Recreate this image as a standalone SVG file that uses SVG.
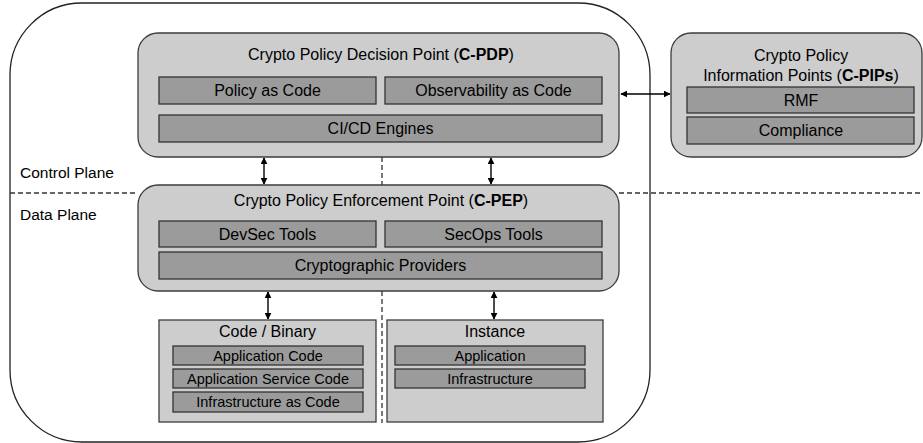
<svg xmlns="http://www.w3.org/2000/svg" width="923" height="443" viewBox="0 0 923 443">
<defs>
<marker id="ah" viewBox="0 0 10 10" refX="9" refY="5" markerWidth="7" markerHeight="7" markerUnits="userSpaceOnUse" orient="auto-start-reverse">
<path d="M0,0 L10,5 L0,10 z" fill="#000"/>
</marker>
</defs>
<style>
text{font-family:"Liberation Sans",Arial,sans-serif;fill:#000;text-anchor:middle}
.t{font-size:16px}
.s{font-size:14.5px}
.lbl{font-size:15.5px;text-anchor:start}
.b{font-weight:bold}
.outer{fill:#fff;stroke:#222;stroke-width:1.3}
.grp{fill:#cdcdcd;stroke:#3c3c3c;stroke-width:1.3}
.inn{fill:#9b9b9b;stroke:#333;stroke-width:1.3}
.dash{stroke:#333;stroke-width:1.3;stroke-dasharray:5 3;fill:none}
.arr{stroke:#000;stroke-width:1.4;fill:none;marker-start:url(#ah);marker-end:url(#ah)}
</style>
<rect class="outer" x="10" y="3" width="640" height="439" rx="72"/>
<g id="planes">
<text class="lbl" x="20" y="178">Control Plane</text>
<text class="lbl" x="20" y="220">Data Plane</text>
</g>
<g id="connectors">
<path class="dash" d="M10,193 H138 M619,193 H923"/>
<path class="dash" d="M382,157 V185 M382,291 V423"/>
<line class="arr" x1="264" y1="158" x2="264" y2="184"/>
<line class="arr" x1="491" y1="158" x2="491" y2="184"/>
<line class="arr" x1="268" y1="292" x2="268" y2="319"/>
<line class="arr" x1="494" y1="292" x2="494" y2="319"/>
<line class="arr" x1="621" y1="94" x2="670" y2="94"/>
</g>
<g id="c-pdp">
<rect class="grp" x="138" y="33" width="481" height="124" rx="20"/>
<text class="t" x="381" y="60">Crypto Policy Decision Point (<tspan class="b">C-PDP</tspan>)</text>
<rect class="inn" x="159" y="77" width="217" height="27"/>
<text class="t" x="267.5" y="96">Policy as Code</text>
<rect class="inn" x="385" y="77" width="217" height="27"/>
<text class="t" x="493.5" y="96">Observability as Code</text>
<rect class="inn" x="159" y="115" width="443" height="27"/>
<text class="t" x="380.5" y="134">CI/CD Engines</text>
</g>
<g id="c-pips">
<rect class="grp" x="671" y="33" width="251" height="124" rx="20"/>
<text class="t" x="801" y="61">Crypto Policy</text>
<text class="t" x="801" y="81">Information Points (<tspan class="b">C-PIPs</tspan>)</text>
<rect class="inn" x="687" y="87" width="227" height="26"/>
<text class="t" x="801" y="106">RMF</text>
<rect class="inn" x="687" y="117" width="227" height="27"/>
<text class="t" x="801" y="136">Compliance</text>
</g>
<g id="c-pep">
<rect class="grp" x="138" y="185" width="481" height="106" rx="20"/>
<text class="t" x="381" y="206">Crypto Policy Enforcement Point (<tspan class="b">C-PEP</tspan>)</text>
<rect class="inn" x="159" y="221" width="217" height="26"/>
<text class="t" x="267.5" y="240">DevSec Tools</text>
<rect class="inn" x="385" y="221" width="217" height="26"/>
<text class="t" x="493.5" y="240">SecOps Tools</text>
<rect class="inn" x="159" y="252" width="443" height="27"/>
<text class="t" x="380.5" y="271">Cryptographic Providers</text>
</g>
<g id="code-binary">
<rect class="grp" x="159" y="320" width="217" height="102"/>
<text class="t" x="267.5" y="337">Code / Binary</text>
<rect class="inn" x="173" y="346" width="190" height="19"/>
<text class="s" x="268" y="361">Application Code</text>
<rect class="inn" x="173" y="369" width="190" height="19"/>
<text class="s" x="268" y="384">Application Service Code</text>
<rect class="inn" x="173" y="392" width="190" height="20"/>
<text class="s" x="268" y="407">Infrastructure as Code</text>
</g>
<g id="instance">
<rect class="grp" x="387" y="320" width="216" height="102"/>
<text class="t" x="495" y="337">Instance</text>
<rect class="inn" x="395" y="346" width="190" height="19"/>
<text class="s" x="490" y="361">Application</text>
<rect class="inn" x="395" y="369" width="190" height="19"/>
<text class="s" x="490" y="384">Infrastructure</text>
</g>
</svg>
